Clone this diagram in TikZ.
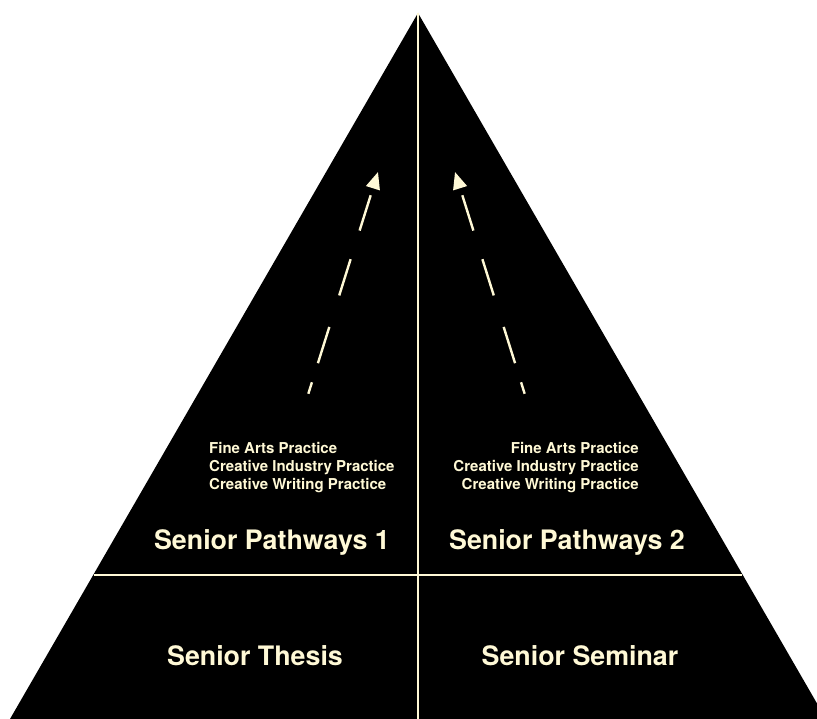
\documentclass[tikz,border=0pt]{standalone}
\usepackage{fontspec}
\setmainfont{TeX Gyre Heros}
\usetikzlibrary{arrows.meta}
\definecolor{cream}{RGB}{255,249,214}
\begin{document}
\begin{tikzpicture}[x=1pt,y=-1pt,
  divider/.style={draw=cream,line width=2pt},
  uparrow/.style={draw=cream,line width=2.4pt,
     dash pattern=on 37pt off 30pt on 38pt off 33pt on 38pt off 20pt on 12pt off 40pt,dash phase=-8pt,
     {Triangle[length=17pt,width=14pt]}-},
  bigtext/.style={text=cream,font=\bfseries\fontsize{26.8}{30}\selectfont,inner sep=0pt},
  smalltext/.style={text=cream,font=\bfseries\fontsize{15}{18}\selectfont,inner sep=0pt}]
\useasboundingbox (0,0) rectangle (817,719);
\clip (0,0) rectangle (817,719);
\coordinate (apex) at (418,13);
\coordinate (bl) at (10,719);
\coordinate (br) at (826,719);
\coordinate (bm) at (418,719);
\coordinate (hl) at (94,575);
\coordinate (hr) at (742,575);
\fill[black] (apex) -- (br) -- (bl) -- cycle;
\draw[divider] (apex) -- (bm);
\draw[divider] (hl) -- (hr);
% arrows
\coordinate (lt) at (378,172);
\coordinate (lb) at (307,398);
\coordinate (rt) at (455,172);
\coordinate (rb) at (526,398);
\draw[uparrow] (lt) -- (lb);
\draw[uparrow] (rt) -- (rb);
% texts
\node[smalltext,anchor=north west,align=left] (l3) at (209,442) {Fine Arts Practice\\Creative Industry Practice\\Creative Writing Practice};
\node[smalltext,anchor=north east,align=right] (r3) at (639,442) {Fine Arts Practice\\Creative Industry Practice\\Creative Writing Practice};
\node[bigtext] (sp1) at (272,542) {Senior Pathways 1};
\node[bigtext] (sp2) at (567,542) {Senior Pathways 2};
\node[bigtext] (st) at (255,656) {Senior Thesis};
\node[bigtext] (ss) at (580,656) {Senior Seminar};
\end{tikzpicture}
\end{document}
